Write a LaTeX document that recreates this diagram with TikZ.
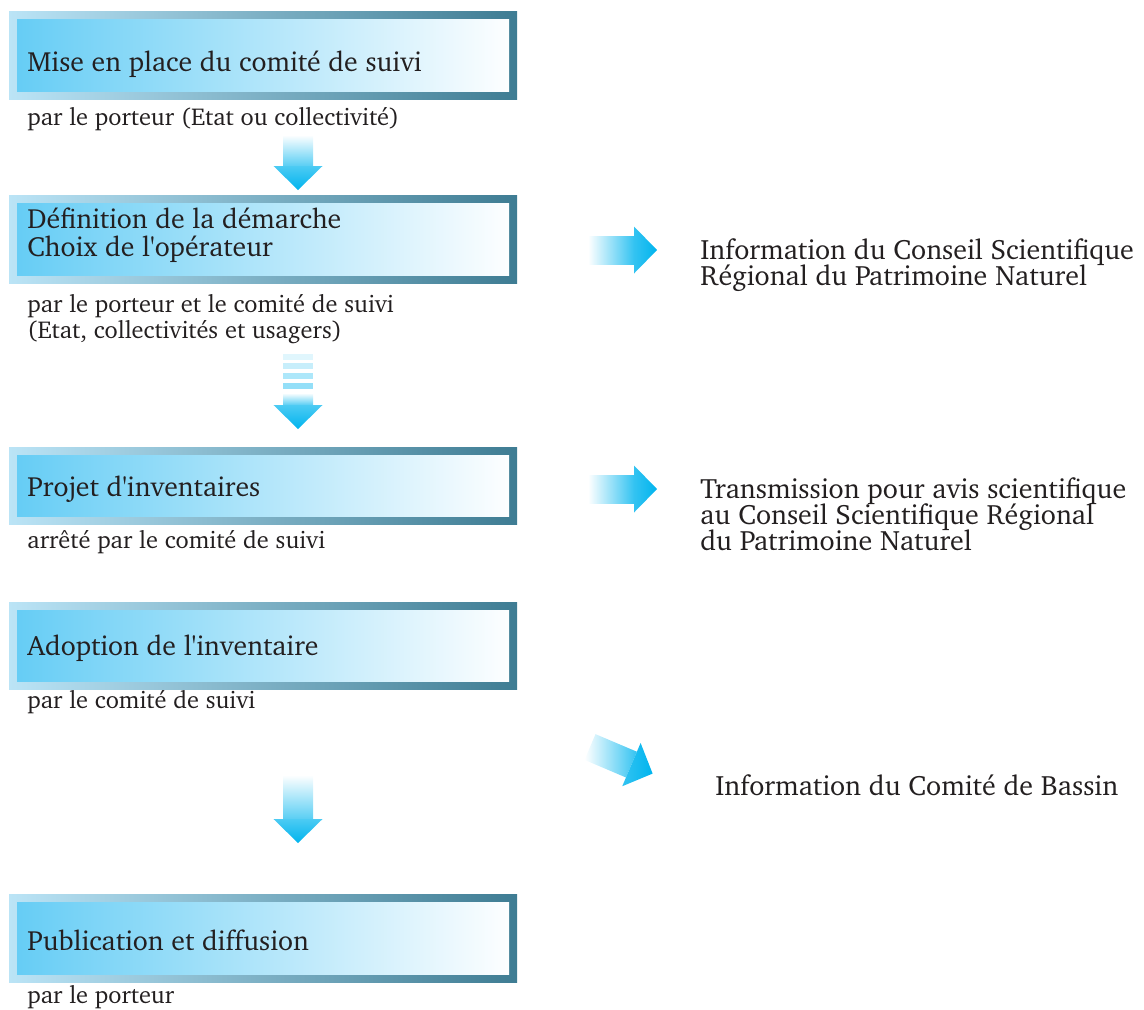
\documentclass[tikz,border=0pt]{standalone}
\usepackage[T1]{fontenc}
\usepackage{charter}
\usetikzlibrary{positioning,calc}
\definecolor{framelt}{HTML}{BBE4F6}
\definecolor{framedk}{HTML}{3E7C93}
\definecolor{boxlt}{HTML}{66CDF5}
\definecolor{boxwt}{HTML}{FDFEFF}
\definecolor{arrowbl}{HTML}{00B4EE}
\definecolor{ink}{HTML}{231F20}

\tikzset{
  boxtxt/.style={anchor=base west, inner sep=0pt, text=ink, align=left,
    font={\fontsize{13.9}{13.6}\selectfont\lineskiplimit=-20pt}},
  subtxt/.style={anchor=base west, inner sep=0pt, text=ink, align=left,
    font={\fontsize{12.2}{13}\selectfont\lineskiplimit=-20pt}},
  sidetxt/.style={anchor=base west, inner sep=0pt, text=ink, align=left,
    font={\fontsize{14}{13}\selectfont\lineskiplimit=-20pt}}
}

% frame and inner panel of a step, #1 = top, #2 = bottom
\newcommand{\stepframe}[2]{%
  \shade[left color=framelt, right color=framedk] (9,#1) rectangle (517,#2);
  \shade[left color=boxlt, right color=boxwt] (17,#1+8) rectangle (509,#2-8);
}
% downward block arrow, #1 = x, #2 = top, #3 = tip
\newcommand{\blkdown}[3]{%
  \shade[top color=white, bottom color=arrowbl!65] (#1-15,#2) rectangle (#1+15,#3-24);
  \shade[top color=arrowbl!70, bottom color=arrowbl] (#1-24.5,#3-24) -- (#1+24.5,#3-24) -- (#1,#3) -- cycle;
}
% block arrow to the right, #1 = tail, #2 = y, #3 = tip
\newcommand{\blkright}[3]{%
  \shade[left color=white, right color=arrowbl!80] (#1,#2-14) rectangle (#3-23,#2+14);
  \shade[left color=arrowbl!80, right color=arrowbl] (#3-23,#2-23.5) -- (#3,#2) -- (#3-23,#2+23.5) -- cycle;
}
\newcommand{\apos}{\textquotesingle}

\begin{document}
\begin{tikzpicture}[x=0.5pt,y=-0.5pt]

    \useasboundingbox (0,0) rectangle (1144,1009);

    \stepframe{11}{99}
    \node[boxtxt] (mise) at (27,71) {Mise en place du comité de suivi};
    \node[subtxt] (mise-by) at (27,125) {par le porteur (Etat ou collectivité)};

    \blkdown{298}{135}{190}

    \stepframe{195}{283}
    \node[boxtxt] (def) at (27,256) {Définition de la démarche\\Choix de l\apos opérateur};
    \node[subtxt] (def-by) at (27,338) {par le porteur et le comité de suivi\\(Etat, collectivités et usagers)};

    \blkright{588}{250}{657}
    \node[sidetxt] (csrpn) at (700,285) {Information du Conseil Scientifique\\Régional du Patrimoine Naturel};

    % striped arrow
    \foreach \y/\s in {354/12, 363/22, 373/32, 383/42}
        \fill[arrowbl!\s] (283,\y) rectangle (313,\y+6);
    \blkdown{298}{393}{429}

    \stepframe{447}{524}
    \node[boxtxt] (projet) at (27,496) {Projet d\apos inventaires};
    \node[subtxt] (projet-by) at (27,548) {arrêté par le comité de suivi};

    \blkright{588}{489}{657}
    \node[sidetxt] (avis) at (700,550) {Transmission pour avis scientifique\\au Conseil Scientifique Régional\\du Patrimoine Naturel};

    \stepframe{602}{689}
    \node[boxtxt] (adopt) at (27,655) {Adoption de l\apos inventaire};
    \node[subtxt] (adopt-by) at (27,708) {par le comité de suivi};

    \begin{scope}[shift={(590,747)},rotate=-23]
        \blkright{0}{0}{68}
    \end{scope}
    \node[sidetxt] (bassin) at (715,795) {Information du Comité de Bassin};

    \blkdown{298}{775}{843}

    \stepframe{894}{982}
    \node[boxtxt] (pub) at (27,950) {Publication et diffusion};
    \node[subtxt] (pub-by) at (27,1003) {par le porteur};

\end{tikzpicture}
\end{document}
